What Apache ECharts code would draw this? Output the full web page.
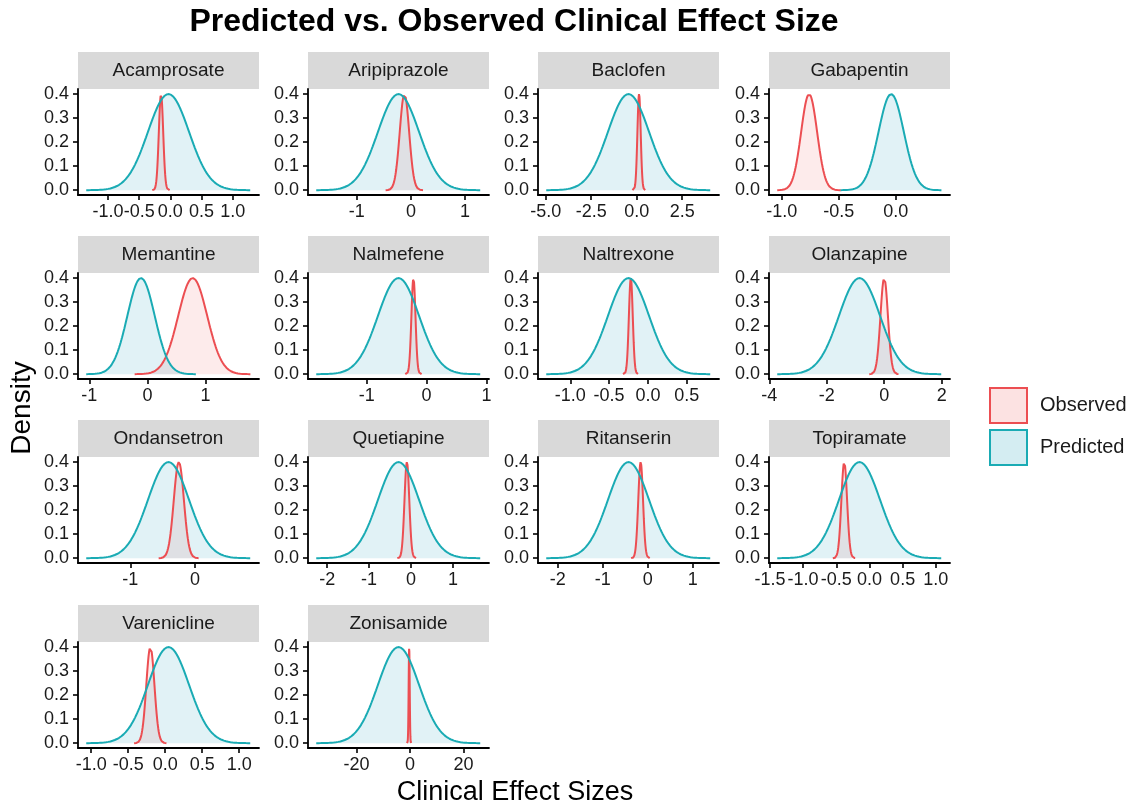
<!DOCTYPE html>
<html><head><meta charset="utf-8">
<script src="https://cdn.jsdelivr.net/npm/echarts@6/dist/echarts.min.js"></script>
<style>html,body{margin:0;padding:0;background:#fff}#c{width:1131px;height:807px}</style>
</head><body><div id="c"></div>
<script>
// ---- data ----
const drugs = ['Acamprosate','Aripiprazole','Baclofen','Gabapentin','Memantine','Nalmefene','Naltrexone','Olanzapine','Ondansetron','Quetiapine','Ritanserin','Topiramate','Varenicline','Zonisamide'];
const predMean = [-0.03,-0.23,-0.45,-0.04,-0.11,-0.47,-0.25,-0.86,-0.41,-0.30,-0.43,-0.15,0.045,-4.3];
const predSd   = [0.33,0.38,1.13,0.111,0.236,0.344,0.265,0.716,0.318,0.49,0.457,0.31,0.278,7.7];
const obsMean  = [-0.15,-0.12,0.13,-0.76,0.78,-0.22,-0.22,0.0,-0.25,-0.10,-0.16,-0.38,-0.20,-0.3];
const obsSd    = [0.035,0.087,0.09,0.07,0.25,0.034,0.025,0.13,0.078,0.057,0.053,0.043,0.055,0.2];
const xTicks = [[-1,-0.5,0,0.5,1],[-1,0,1],[-5,-2.5,0,2.5],[-1,-0.5,0],[-1,0,1],[-1,0,1],[-1,-0.5,0,0.5],[-4,-2,0,2],[-1,0],[-2,-1,0,1],[-2,-1,0,1],[-1.5,-1,-0.5,0,0.5,1],[-1,-0.5,0,0.5,1],[-20,0,20]];
const xTickDigits = [1,0,1,1,0,0,1,0,0,0,0,1,1,0];
const yTicks = [0,0.1,0.2,0.3,0.4];
const groups = ['Observed','Predicted'];
const titleText = 'Predicted vs. Observed Clinical Effect Size';
const xTitle = 'Clinical Effect Sizes';
const yTitle = 'Density';

// ---- styling / layout ----
const FONT = 'Liberation Sans, Arial, Helvetica, sans-serif';
const RED = '#EC4E52', TEAL = '#1AABB4';
const RED_FILL = 'rgba(240,110,110,0.2)', TEAL_FILL = 'rgba(40,165,190,0.2)';
const SPAN = 4;         // curves drawn over mean +/- SPAN sd
const NPTS = 301;
const colLeft = [78, 308, 538, 769], colW = 181;
const rowTop = [52, 236, 420, 605], stripH = 37, panelH = 106;

function normalCurve(m, s) {
  const pts = [];
  for (let k = 0; k < NPTS; k++) {
    const x = m - SPAN * s + (2 * SPAN * s) * k / (NPTS - 1);
    const z = (x - m) / s;
    pts.push([x, Math.exp(-z * z / 2) / Math.sqrt(2 * Math.PI)]);
  }
  return pts;
}

const grids = [], xAxes = [], yAxes = [], series = [], graphics = [];
drugs.forEach((d, i) => {
  const r = Math.floor(i / 4), c = i % 4;
  const left = colLeft[c], top = rowTop[r] + stripH;
  grids.push({left: left, top: top, width: colW, height: panelH, containLabel: false});
  const lo = Math.min(predMean[i] - SPAN * predSd[i], obsMean[i] - SPAN * obsSd[i]);
  const hi = Math.max(predMean[i] + SPAN * predSd[i], obsMean[i] + SPAN * obsSd[i]);
  const pad = 0.05 * (hi - lo);
  const dig = xTickDigits[i];
  xAxes.push({
    type: 'value', gridIndex: i, min: lo - pad, max: hi + pad,
    axisLine: {show: true, onZero: false, lineStyle: {color: '#000', width: 1.8}},
    axisTick: {show: true, length: 5, customValues: xTicks[i], lineStyle: {color: '#000', width: 1.6}},
    axisLabel: {customValues: xTicks[i], formatter: v => v.toFixed(dig), fontSize: 18, color: '#1a1a1a', margin: 8, fontFamily: FONT, hideOverlap: false},
    splitLine: {show: false}
  });
  yAxes.push({
    type: 'value', gridIndex: i, min: -0.02, max: 0.42,
    axisLine: {show: true, onZero: false, lineStyle: {color: '#000', width: 1.8}},
    axisTick: {show: true, length: 5, customValues: yTicks, lineStyle: {color: '#000', width: 1.6}},
    axisLabel: {customValues: yTicks, formatter: v => v.toFixed(1), fontSize: 18, color: '#1a1a1a', margin: 9, fontFamily: FONT},
    splitLine: {show: false}
  });
  series.push({
    name: groups[0], type: 'line', xAxisIndex: i, yAxisIndex: i, showSymbol: false, silent: true,
    data: normalCurve(obsMean[i], obsSd[i]),
    lineStyle: {color: RED, width: 2}, itemStyle: {color: RED}, areaStyle: {color: RED_FILL}
  });
  series.push({
    name: groups[1], type: 'line', xAxisIndex: i, yAxisIndex: i, showSymbol: false, silent: true,
    data: normalCurve(predMean[i], predSd[i]),
    lineStyle: {color: TEAL, width: 2}, itemStyle: {color: TEAL}, areaStyle: {color: TEAL_FILL}
  });
  graphics.push({type: 'rect', shape: {x: left, y: rowTop[r], width: colW, height: stripH}, style: {fill: '#D9D9D9'}, silent: true});
  graphics.push({type: 'text', x: left + colW / 2, y: rowTop[r] + stripH / 2,
    style: {text: d, fill: '#1a1a1a', font: '19px ' + FONT, textAlign: 'center', textVerticalAlign: 'middle'}, silent: true});
});
graphics.push({type: 'text', x: 514, y: 22, style: {text: titleText, fill: '#000', font: 'bold 32px ' + FONT, textAlign: 'center', textVerticalAlign: 'middle'}});
graphics.push({type: 'text', x: 515, y: 793, style: {text: xTitle, fill: '#000', font: '27px ' + FONT, textAlign: 'center', textVerticalAlign: 'middle'}});
graphics.push({type: 'text', x: 22, y: 408, rotation: Math.PI / 2, style: {text: yTitle, fill: '#000', font: '28px ' + FONT, textAlign: 'center', textVerticalAlign: 'middle'}});

const chart = echarts.init(document.getElementById('c'));
chart.setOption({
  animation: false,
  backgroundColor: '#fff',
  grid: grids, xAxis: xAxes, yAxis: yAxes, series: series,
  legend: {
    orient: 'vertical', left: 984, top: 382, itemWidth: 37, itemHeight: 35, itemGap: 5, icon: 'rect',
    textStyle: {fontSize: 20, color: '#1a1a1a', fontFamily: FONT, padding: [0, 0, 0, 8]},
    data: [
      {name: groups[0], itemStyle: {color: RED_FILL, borderColor: RED, borderWidth: 2}},
      {name: groups[1], itemStyle: {color: TEAL_FILL, borderColor: TEAL, borderWidth: 2}}
    ]
  },
  graphic: graphics
});
</script></body></html>
